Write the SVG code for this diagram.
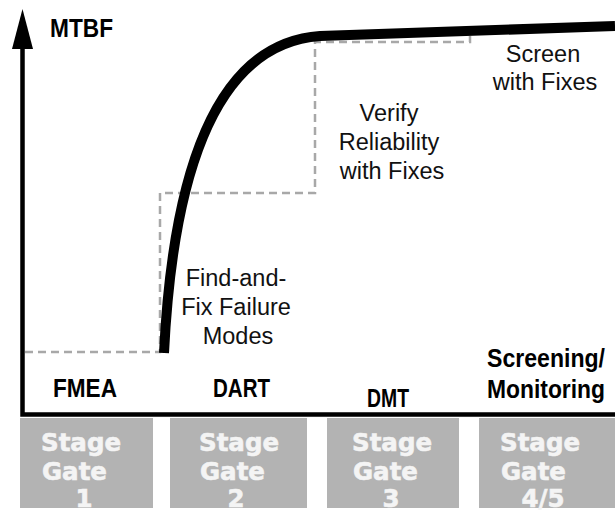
<svg xmlns="http://www.w3.org/2000/svg" width="615" height="516" viewBox="0 0 615 516">
  <style>
    .lbl { font-family: "Liberation Sans", Arial, sans-serif; font-size: 23.5px; fill: #111; text-anchor: middle; }
    .bold { font-family: "Liberation Sans", Arial, sans-serif; font-size: 25px; font-weight: bold; fill: #000; }
    .gate rect { fill: #b3b3b3; }
    .gate text { font-family: "DejaVu Sans", "Liberation Sans", sans-serif; font-size: 24.5px; font-weight: bold; fill: #f4f4f4; stroke: #f4f4f4; stroke-width: 0.6; }
    .gate .num { text-anchor: middle; }
    .step { fill: none; stroke: #a8a8a8; stroke-width: 2.5; stroke-dasharray: 8 5; }
    .axis { stroke: #000; stroke-width: 4.5; fill: none; }
    .growth { fill: none; stroke: #000; stroke-width: 10; stroke-linecap: butt; stroke-linejoin: round; }
  </style>

  <!-- axes -->
  <g id="axes">
    <path class="axis" d="M22.5,46 V414.5 H615"/>
    <polygon points="22.5,9 12,49 33,49" fill="#000"/>
    <text class="bold" x="50" y="37" textLength="63" lengthAdjust="spacingAndGlyphs">MTBF</text>
  </g>

  <!-- connectors: stepped target line and growth curve -->
  <g id="connectors">
    <path class="step" d="M25,352 H160 V193 H315 V42 H470 V36"/>
    <path class="growth" d="M164,353 C170,230 195,45 320,36 L615,26"/>
  </g>

  <!-- activity labels -->
  <g id="label-find-fix">
    <text class="lbl" x="236" y="286">Find-and-</text>
    <text class="lbl" x="236" y="315">Fix Failure</text>
    <text class="lbl" x="238" y="344">Modes</text>
  </g>
  <g id="label-verify">
    <text class="lbl" x="389" y="121">Verify</text>
    <text class="lbl" x="389" y="150">Reliability</text>
    <text class="lbl" x="392" y="179">with Fixes</text>
  </g>
  <g id="label-screen">
    <text class="lbl" x="543" y="62">Screen</text>
    <text class="lbl" x="545" y="90">with Fixes</text>
  </g>

  <!-- phase names -->
  <g id="phase-fmea"><text class="bold" x="53" y="397" textLength="64" lengthAdjust="spacingAndGlyphs">FMEA</text></g>
  <g id="phase-dart"><text class="bold" x="213" y="397" textLength="57" lengthAdjust="spacingAndGlyphs">DART</text></g>
  <g id="phase-dmt"><text class="bold" x="367" y="407" textLength="42" lengthAdjust="spacingAndGlyphs">DMT</text></g>
  <g id="phase-screening">
    <text class="bold" x="487" y="367" textLength="118" lengthAdjust="spacingAndGlyphs">Screening/</text>
    <text class="bold" x="487" y="398" textLength="118" lengthAdjust="spacingAndGlyphs">Monitoring</text>
  </g>

  <!-- stage gates -->
  <g id="gate-1" class="gate">
    <rect x="20" y="418" width="133" height="90"/>
    <text x="41" y="451">Stage</text>
    <text x="42" y="480">Gate</text>
    <text class="num" x="84" y="507">1</text>
  </g>
  <g id="gate-2" class="gate">
    <rect x="170" y="418" width="137" height="90"/>
    <text x="199" y="451">Stage</text>
    <text x="200" y="480">Gate</text>
    <text class="num" x="236" y="507">2</text>
  </g>
  <g id="gate-3" class="gate">
    <rect x="327" y="418" width="132" height="90"/>
    <text x="352" y="451">Stage</text>
    <text x="353" y="480">Gate</text>
    <text class="num" x="391" y="507">3</text>
  </g>
  <g id="gate-4-5" class="gate">
    <rect x="479" y="418" width="136" height="90"/>
    <text x="500" y="451">Stage</text>
    <text x="501" y="480">Gate</text>
    <text class="num" x="543" y="507">4/5</text>
  </g>
</svg>
